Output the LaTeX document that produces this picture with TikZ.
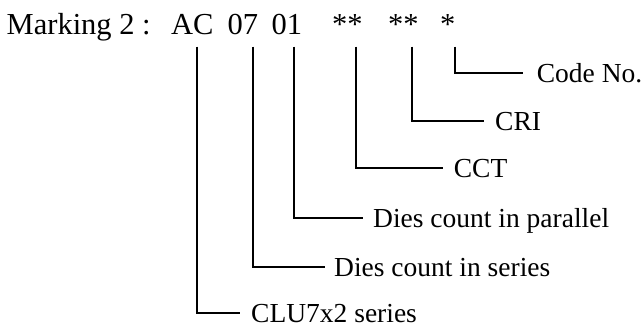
\documentclass[tikz,border=0pt]{standalone}
\usepackage{fontspec}
\setmainfont{Liberation Serif}
\begin{document}
\begin{tikzpicture}[x=1pt,y=-1pt,
  ttl/.style={anchor=base west,inner sep=0pt,font=\fontsize{30.5}{36}\selectfont},
  lab/.style={anchor=west,inner ysep=0pt,inner xsep=11pt,text height=19pt,text depth=0pt,font=\fontsize{27.5}{33}\selectfont},
  conn/.style={line width=2pt,line cap=butt,line join=miter}]
\useasboundingbox (0,0) rectangle (641,326);
% title
\node[ttl] (mk)  at (6.5,34.5) {Marking 2 :};
\node[ttl] (ac)  at (171,34.5) {AC};
\node[ttl] (s07) at (227.5,34.5) {07};
\node[ttl] (s01) at (271.5,34.5) {01};
\node[ttl] (a1)  at (332,34.5) {**};
\node[ttl] (a2)  at (388,34.5) {**};
\node[ttl] (a3)  at (440,34.5) {*};
% connector tops
\coordinate (tA)  at (197.3,46.7);
\coordinate (t07) at (252.7,46.7);
\coordinate (t01) at (294,46.7);
\coordinate (tc1) at (356,46.7);
\coordinate (tc2) at (411.7,46.7);
\coordinate (tc3) at (455,46.7);
% labels (placed at the line end)
\node[lab,inner xsep=14pt] (code) at (522.7,72.7) {Code No.};
\node[lab] (cri) at (484,120.7) {CRI};
\node[lab] (cct) at (442.7,168.3) {CCT};
\node[lab,inner xsep=10pt] (par) at (363,217.7) {Dies count in parallel};
\node[lab,inner xsep=9pt] (ser) at (325,267) {Dies count in series};
\node[lab] (clu) at (240,312.8) {CLU7x2 series};
% connectors
\draw[conn] (tc3) |- (code.west);
\draw[conn] (tc2) |- (cri.west);
\draw[conn] (tc1) |- (cct.west);
\draw[conn] (t01) |- (par.west);
\draw[conn] (t07) |- (ser.west);
\draw[conn] (tA)  |- (clu.west);
\end{tikzpicture}
\end{document}
